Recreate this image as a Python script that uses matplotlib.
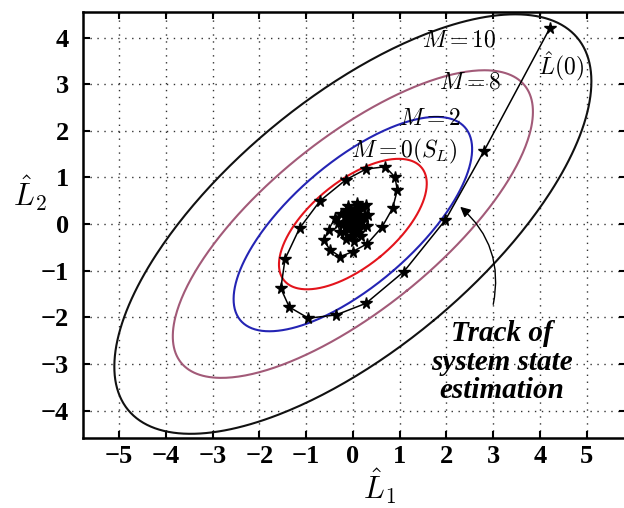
import numpy as np
import matplotlib.pyplot as plt

plt.rcParams['mathtext.fontset'] = 'cm'

# ellipses: label, half-width in L1, half-height in L2, correlation, colour
ell_labels = ["$M = 0(S_L)$", "$M = 2$", "$M = 8$", "$M = 10$"]
ell_a = [1.58, 2.55, 3.85, 5.10]
ell_b = [1.40, 2.30, 3.30, 4.50]
ell_rho = [0.62, 0.70, 0.73, 0.68]
ell_colors = ["#e3141c", "#2424b4", "#a25a78", "#111111"]
label_x = [1.10, 1.65, 2.50, 2.27]
label_y = [1.56, 2.27, 3.06, 3.95]

# track of system state estimation
track_x = [4.21, 2.80, 1.98, 1.09, 0.28, -0.36, -0.95, -1.36, -1.54, -1.45,
           -1.14, -0.70, -0.15, 0.28, 0.69, 0.90, 0.95, 0.85, 0.62, 0.31,
           0.00, -0.27, -0.49, -0.62, -0.52, -0.38, -0.15, 0.08,
           0.28, 0.33, 0.30, 0.18, 0.02, -0.15, -0.28, -0.32, -0.25, -0.10,
           0.08, 0.22, 0.27, 0.22, 0.10, -0.05, -0.18, -0.22, -0.17, -0.05,
           0.08, 0.16, 0.17, 0.10, -0.02, -0.12, -0.14, -0.08, 0.02, 0.09,
           0.10, 0.04, -0.04, -0.07, -0.02, 0.03, 0.00]
track_y = [4.20, 1.56, 0.09, -1.02, -1.70, -1.95, -2.02, -1.78, -1.38, -0.75,
           -0.09, 0.50, 0.95, 1.18, 1.23, 1.01, 0.73, 0.34, -0.07, -0.42,
           -0.59, -0.70, -0.55, -0.35, -0.12, 0.13, 0.30, 0.38,
           0.40, 0.20, -0.05, -0.25, -0.36, -0.33, -0.18, 0.02, 0.22, 0.38,
           0.45, 0.34, 0.15, -0.05, -0.20, -0.25, -0.16, 0.00, 0.17, 0.28,
           0.30, 0.20, 0.05, -0.10, -0.15, -0.08, 0.04, 0.15, 0.19, 0.12,
           0.02, -0.06, -0.06, 0.04, 0.10, 0.06, 0.02]

ticks = [-5, -4, -3, -2, -1, 0, 1, 2, 3, 4, 5]

fig = plt.figure(figsize=(6.24, 5.08), dpi=100)
ax = fig.add_axes([83/624, 1-438/508, 543/624, 426/508])

for a, b, rho, c in zip(ell_a, ell_b, ell_rho, ell_colors):
    cov = np.array([[a*a, rho*a*b], [rho*a*b, b*b]])
    vals, vecs = np.linalg.eigh(cov)
    t = np.linspace(0, 2*np.pi, 400)
    pts = vecs @ (np.sqrt(vals)[:, None] * np.vstack([np.cos(t), np.sin(t)]))
    ax.plot(pts[0], pts[1], color=c, lw=1.5)

ax.plot(track_x, track_y, color='black', lw=1.1, marker='*', ms=8.5,
        mec='black', mfc='black')

for lab, x, y in zip(ell_labels, label_x, label_y):
    ax.text(x, y, lab, fontsize=17, ha='center', va='center')
ax.text(4.44, 3.38, r"$\hat{L}(0)$", fontsize=17, ha='center', va='center')

ax.text(3.19, -2.96, "Track of\nsystem state\nestimation", fontsize=21,
        family='Liberation Serif', weight='bold', style='italic',
        ha='center', va='center', linespacing=1.05)
ax.annotate("", xy=(2.25, 0.41), xytext=(2.99, -1.78),
            arrowprops=dict(arrowstyle='-|>', color='black', lw=1.0,
                            connectionstyle='arc3,rad=0.3', mutation_scale=15))

ax.set_xlim(-5.77, 5.84)
ax.set_ylim(-4.59, 4.55)
ax.set_xticks(ticks)
ax.set_yticks(ticks[1:-1])
ax.grid(True, linestyle=(0, (1, 4)), color='black', lw=1.0, alpha=0.8)
ax.tick_params(direction='in', top=True, right=True, length=5, width=1.5,
               labelsize=19)
ax.tick_params(axis='x', pad=5)
ax.tick_params(axis='y', pad=10)
for lab in ax.get_xticklabels() + ax.get_yticklabels():
    lab.set_fontfamily('Liberation Serif')
    lab.set_fontweight('bold')
for s in ax.spines.values():
    s.set_linewidth(1.8)

fig.text(380/624, 1-486/508, r"$\hat{L}_1$", fontsize=22, ha='center', va='center')
fig.text(30/624, 1-193/508, r"$\hat{L}_2$", fontsize=22, ha='center', va='center')

fig.savefig("out.png", dpi=100)
